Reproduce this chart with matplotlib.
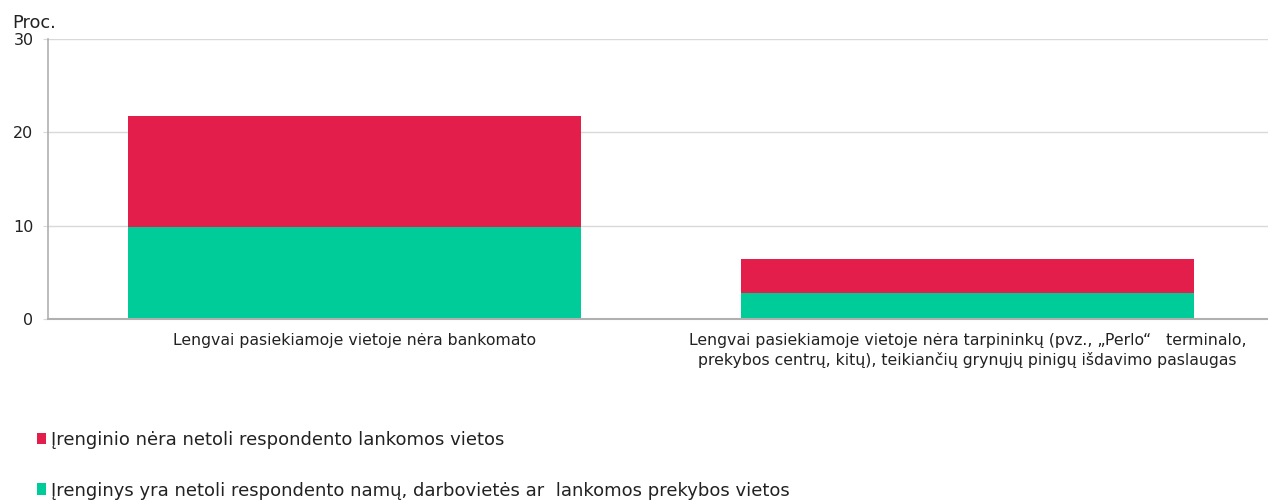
import matplotlib
matplotlib.use("Agg")
import matplotlib.pyplot as plt

categories = [
    "Lengvai pasiekiamoje vietoje nėra bankomato",
    "Lengvai pasiekiamoje vietoje nėra tarpininkų (pvz., „Perlo“   terminalo,\nprekybos centrų, kitų), teikiančių grynųjų pinigų išdavimo paslaugas",
]
near_values = [9.9, 2.8]
not_near_values = [11.9, 3.6]
series_labels = [
    "Įrenginio nėra netoli respondento lankomos vietos",
    "Įrenginys yra netoli respondento namų, darbovietės ar  lankomos prekybos vietos",
]
yticks = [0, 10, 20, 30]

red = "#e31e4b"
green = "#00cc99"

plt.rcParams["font.family"] = ["DejaVu Sans"]

fig = plt.figure(figsize=(12.68, 5.01), dpi=100)
ax = fig.add_axes([0.0379, 0.3633, 0.9621, 0.5589])

x = list(range(len(categories)))
b_green = ax.bar(x, near_values, width=0.74, color=green, zorder=3)
b_red = ax.bar(x, not_near_values, width=0.74, bottom=near_values, color=red, zorder=3)

ax.set_xlim(-0.5, 1.49)
ax.set_ylim(0, 30)
ax.set_yticks(yticks)
ax.set_yticklabels([str(t) for t in yticks], fontsize=11.5, color="#222222")
ax.tick_params(axis="y", length=3.5, color="#d9d9d9", pad=7)
ax.set_xticks(x)
ax.set_xticklabels(categories, fontsize=11.3, color="#222222", linespacing=1.35)
ax.tick_params(axis="x", length=0, pad=10)

ax.grid(axis="y", color="#d9d9d9", linewidth=1, zorder=0)
for s in ["top", "right"]:
    ax.spines[s].set_visible(False)
ax.spines["left"].set_color("#b0b0b0")
ax.spines["left"].set_linewidth(1.2)
ax.spines["bottom"].set_color("#b0b0b0")
ax.spines["bottom"].set_linewidth(1.5)
ax.spines["bottom"].set_zorder(4)

fig.text(0.0095, 0.954, "Proc.", fontsize=12.8, color="#222222", ha="left", va="center")

leg = fig.legend([b_red, b_green], series_labels, loc="upper left",
                 bbox_to_anchor=(0.0235, 0.154), frameon=False,
                 prop={"size": 13},
                 handlelength=0.5, handleheight=0.6, handletextpad=0.25,
                 labelspacing=1.8, borderaxespad=0)
for t in leg.get_texts():
    t.set_color("#222222")

fig.savefig("out.png", dpi=100)
